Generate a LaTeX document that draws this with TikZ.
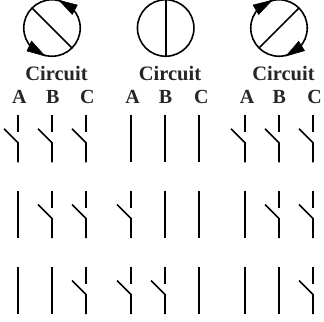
\documentclass[tikz,border=0pt]{standalone}
\usepackage{fontspec}
\setmainfont{Liberation Serif}
\tikzset{
  wire/.style={line width=1.6bp,black},
  ring/.style={circle,draw=black,line width=1.6bp,minimum size=56.5bp,inner sep=0pt,outer sep=0pt},
  head/.style={fill=black,draw=black,line width=0.5bp,line join=miter},
  title/.style={font=\bfseries\fontsize{20.5bp}{21bp}\selectfont,text=black!85,inner sep=0pt,anchor=base},
  letter/.style={font=\bfseries\fontsize{20bp}{21bp}\selectfont,text=black!85,inner sep=0pt,anchor=base}
}
\newcommand{\opensw}[2]{%
  \draw[wire] (#1,#2) -- (#1,#2+16.5);
  \draw[wire] (#1,#2+47) -- (#1,#2+27.5) -- (#1-14,#2+13.5);
}
\newcommand{\closedsw}[2]{\draw[wire] (#1,#2) -- (#1,#2+47);}
\begin{document}
\begin{tikzpicture}[x=1bp,y=-1bp]
\useasboundingbox (0,0) rectangle (324,322);
\node[ring] (c1) at (52,28) {};
\node[ring] (c2) at (165.7,28) {};
\node[ring] (c3) at (279,28) {};
\draw[wire] (c1.135) -- (c1.-45);
\draw[wire] (c2.90) -- (c2.-90);
\draw[wire] (c3.45) -- (c3.-135);
\draw[head] (59,0.3) -- (77.3,5) -- (72.3,14.5) -- cycle;
\draw[head] (45,56) -- (27,51) -- (31.5,41) -- cycle;
\draw[head] (272,0.3) -- (253,5) -- (258.7,14.5) -- cycle;
\draw[head] (286,56) -- (304.5,50.7) -- (298.7,41.3) -- cycle;
\node[title] (t1) at (56.5,80) {Circuit};
\node[title] (t2) at (170,80) {Circuit};
\node[title] (t3) at (283.5,80) {Circuit};
\foreach \n/\l/\x in {a/A/19.3,b/B/52.7,c/C/87.3,d/A/132.7,e/B/165.5,f/C/201.3,g/A/247,h/B/279.3,i/C/314.7}
  \node[letter] (l\n) at (\x,103) {\l};
% row 1
\opensw{18}{115.3}\opensw{52}{115.3}\opensw{86}{115.3}
\closedsw{131}{115.3}\closedsw{165}{115.3}\closedsw{199}{115.3}
\opensw{245}{115.3}\opensw{279}{115.3}\opensw{313}{115.3}
% row 2
\closedsw{18}{191}\opensw{52}{191}\opensw{86}{191}
\opensw{131}{191}\closedsw{165}{191}\closedsw{199}{191}
\closedsw{245}{191}\opensw{279}{191}\opensw{313}{191}
% row 3
\closedsw{18}{267}\closedsw{52}{267}\opensw{86}{267}
\opensw{131}{267}\opensw{165}{267}\closedsw{199}{267}
\closedsw{245}{267}\closedsw{279}{267}\opensw{313}{267}
\end{tikzpicture}
\end{document}
